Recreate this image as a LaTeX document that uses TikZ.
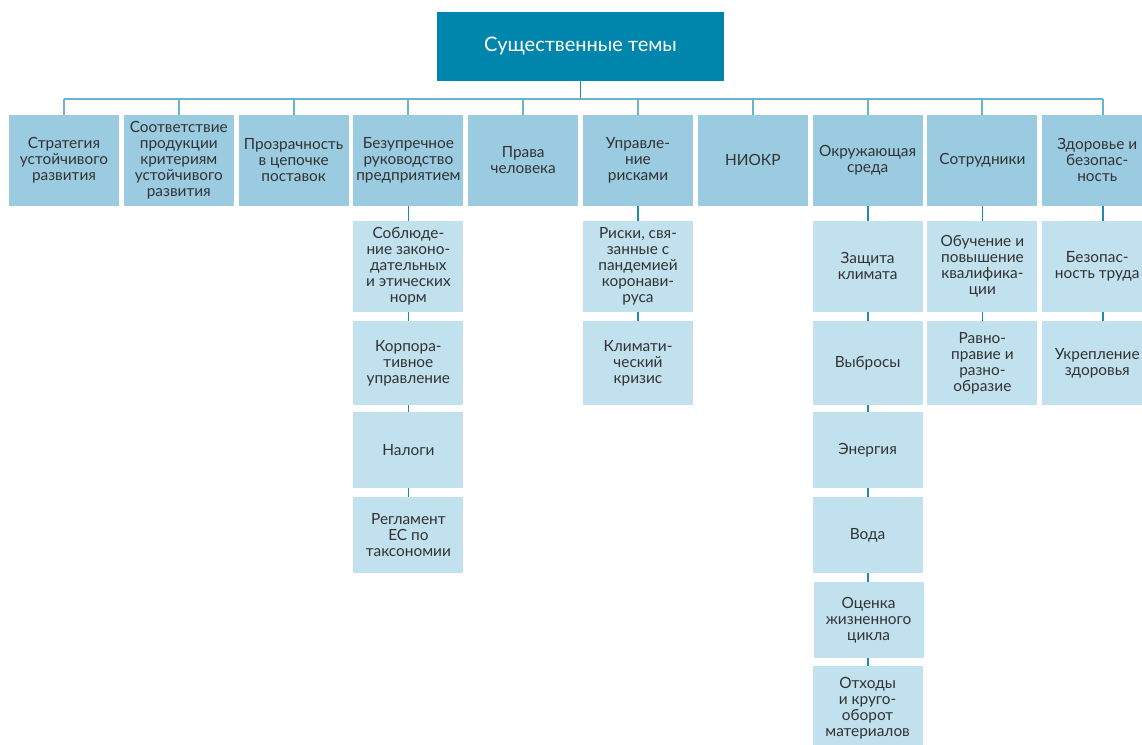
\documentclass[tikz,border=0pt]{standalone}
\usepackage{fontspec}
\setmainfont{Lato}
\definecolor{topc}{RGB}{0,134,173}
\definecolor{lvc}{RGB}{155,203,224}
\definecolor{subc}{RGB}{194,225,238}
\definecolor{busc}{RGB}{104,180,207}
\definecolor{linkc}{RGB}{30,138,178}
\definecolor{txtc}{RGB}{50,50,50}
\tikzset{
  base/.style={rectangle, inner sep=0pt, outer sep=0pt, anchor=north west, align=center,
    minimum width=110pt, text=txtc, font=\fontsize{15.4}{16}\selectfont},
  topbox/.style={base, fill=topc, text=white, minimum width=287pt, minimum height=68.7pt,
    font=\fontsize{20}{24}\selectfont},
  lvl/.style={base, fill=lvc, minimum height=90.7pt},
  subbox/.style={base, fill=subc},
  busline/.style={draw=busc, line width=2pt},
  link/.style={draw=linkc, line width=1.8pt},
}
\begin{document}
\begin{tikzpicture}[x=1pt,y=-1pt]
\useasboundingbox (0,0) rectangle (1142,744);
\clip (0,0) rectangle (1142,744);
\coordinate (bus) at (0,98.5);
\coordinate (c10) at (1103,0);
\node[topbox] (top) at (437,12) {\raisebox{-2pt}{Существенные темы}};
\node[lvl] (t1) at (9,115) {Стратегия\\устойчивого\\развития};
\node[lvl] (t2) at (123.8,115) {Соответствие\\продукции\\критериям\\устойчивого\\развития};
\node[lvl] (t3) at (238.6,115) {Прозрачность\\в цепочке\\поставок};
\node[lvl] (t4) at (353.4,115) {Безупречное\\руководство\\предприятием};
\node[lvl] (t5) at (468.2,115) {Права\\человека};
\node[lvl] (t6) at (583,115) {Управле-\\ние\\рисками};
\node[lvl] (t7) at (697.8,115) {НИОКР};
\node[lvl] (t8) at (812.6,115) {Окружающая\\среда};
\node[lvl] (t9) at (927.4,115) {Сотрудники};
\node[lvl] (t10) at (1042.2,115) {Здоровье и\\безопас-\\ность};
% column 4
\node[subbox, minimum height=90.7pt] (a1) at (353.4,221) {Соблюде-\\ние законо-\\дательных\\и этических\\норм};
\node[subbox, minimum height=83.7pt] (a2) at (353.4,321) {Корпора-\\тивное\\управление};
\node[subbox, minimum height=75.7pt] (a3) at (353.4,412) {Налоги};
\node[subbox, minimum height=75.7pt] (a4) at (353.4,497) {Регламент\\ЕС по\\таксономии};
% column 6
\node[subbox, minimum height=90.7pt] (b1) at (583,221) {Риски, свя-\\занные с\\пандемией\\коронави-\\руса};
\node[subbox, minimum height=83.7pt] (b2) at (583,321) {Климати-\\ческий\\кризис};
% column 8
\node[subbox, minimum height=90.7pt] (e1) at (812.6,221) {Защита\\климата};
\node[subbox, minimum height=83.7pt] (e2) at (812.6,321) {Выбросы};
\node[subbox, minimum height=75.7pt] (e3) at (812.6,412) {Энергия};
\node[subbox, minimum height=75.7pt] (e4) at (812.6,497) {Вода};
\node[subbox, minimum height=75.7pt] (e5) at (813.6,582) {Оценка\\жизненного\\цикла};
\node[subbox, minimum height=84pt] (e6) at (812.6,666) {Отходы\\и круго-\\оборот\\материалов};
% column 9
\node[subbox, minimum height=90.7pt] (s1) at (927.4,221) {Обучение и\\повышение\\квалифика-\\ции};
\node[subbox, minimum height=83.7pt] (s2) at (927.4,321) {Равно-\\правие и\\разно-\\образие};
% column 10
\node[subbox, minimum height=90.7pt] (h1) at (1042.2,221) {Безопас-\\ность труда};
\node[subbox, minimum height=83.7pt] (h2) at (1042.2,321) {Укрепление\\здоровья};
% bus
\draw[link] (top.south) -- (top.south |- bus);
\draw[busline] (t1.north |- bus) -- (c10 |- bus);
\foreach \n in {t1,t2,t3,t4,t5,t6,t7,t8,t9}
  \draw[busline] (\n.north |- bus) -- (\n.north);
\draw[busline] (c10 |- bus) -- (c10 |- t10.north);
% column links
\draw[link] (t4.south) -- (a1.north);
\draw[link] (a1.south) -- (a2.north);
\draw[link] (a2.south) -- (a3.north);
\draw[link] (a3.south) -- (a4.north);
\draw[link] (t6.south) -- (b1.north);
\draw[link] (b1.south) -- (b2.north);
\draw[link] (t8.south) -- (e1.north);
\draw[link] (e1.south) -- (e2.north);
\draw[link] (e2.south) -- (e3.north);
\draw[link] (e3.south) -- (e4.north);
\draw[link] (e4.south) -- (e4.south |- e5.north);
\draw[link] (e5.south -| e4.south) -- (e4.south |- e6.north);
\draw[link] (t9.south) -- (s1.north);
\draw[link] (s1.south) -- (s2.north);
\draw[link] (c10 |- t10.south) -- (c10 |- h1.north);
\draw[link] (c10 |- h1.south) -- (c10 |- h2.north);
\end{tikzpicture}
\end{document}
